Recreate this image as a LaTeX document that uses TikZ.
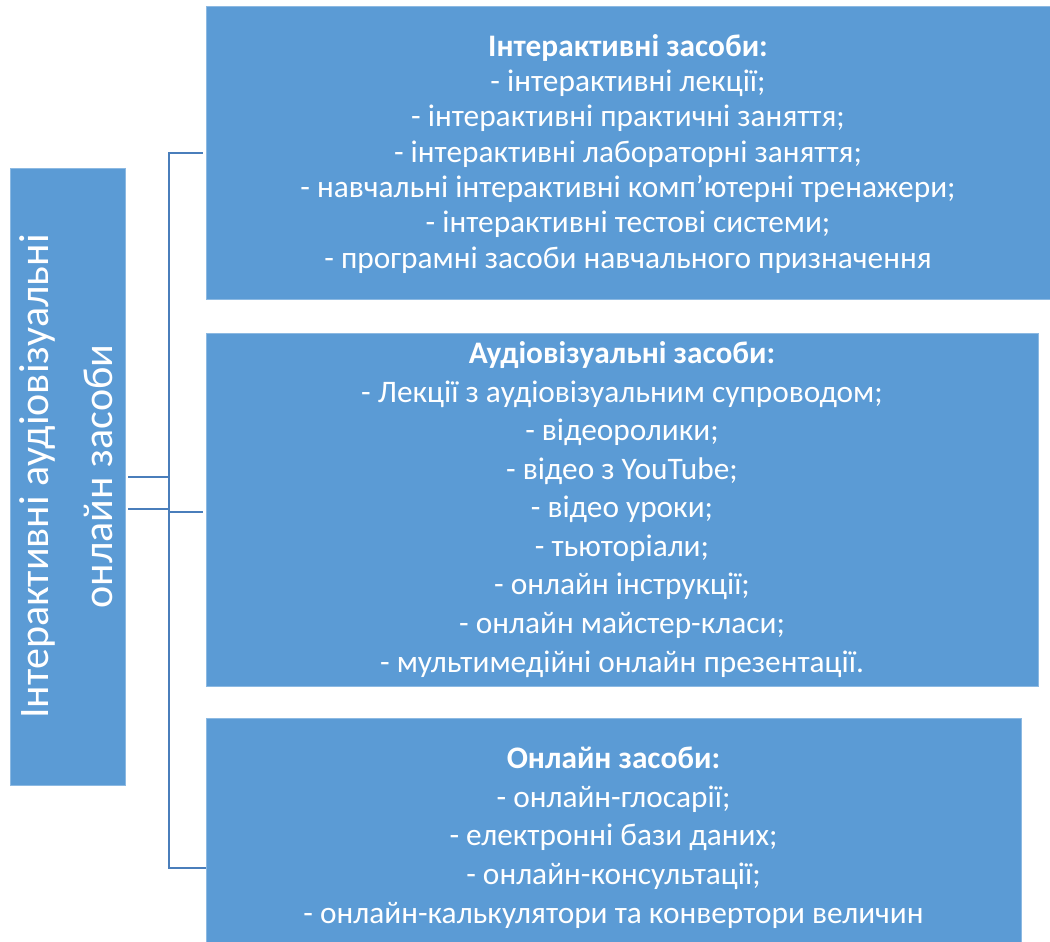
\documentclass[tikz,border=0pt]{standalone}
\usepackage{fontspec}
\setmainfont{Carlito}
\definecolor{boxblue}{HTML}{5B9BD5}
\definecolor{linkblue}{HTML}{4A7EBB}
\begin{document}
\begin{tikzpicture}[x=0.75pt,y=-0.75pt,
  panel/.style={fill=boxblue, draw=boxblue!70!white, line width=0.6pt,
    text=white, align=center, inner sep=0pt},
  bodytext/.style={text=white, align=center, inner sep=0pt},
  link/.style={draw=linkblue, line width=1.6pt}]
\useasboundingbox (0,0) rectangle (1050,942);
\clip (0,0) rectangle (1050,942);

% left category box with rotated caption
\node[panel, minimum width=86.25pt, minimum height=462.75pt] (left) at (67.5,476.5) {};
\node[bodytext, rotate=90, font=\fontsize{31.5}{48}\selectfont] (lefttext) at ([xshift=-0.75pt]left.center)
  {Інтерактивні аудіовізуальні\\онлайн засоби};

% three group boxes
\node[panel, minimum width=633pt, minimum height=219.75pt] (b1) at (628,152.5) {};
\node[bodytext, font=\fontsize{23.5}{26.5}\selectfont] (t1) at ([yshift=-1pt]b1.center)
  {\textbf{Інтерактивні засоби:}\\
   - інтерактивні лекції;\\
   - інтерактивні практичні заняття;\\
   - інтерактивні лабораторні заняття;\\
   - навчальні інтерактивні комп’ютерні тренажери;\\
   - інтерактивні тестові системи;\\
   - програмні засоби навчального призначення};

\node[panel, minimum width=624pt, minimum height=264.75pt] (b2) at (622,509.5) {};
\node[bodytext, font=\fontsize{23.5}{28.9}\selectfont] (t2) at (b2.center)
  {\textbf{Аудіовізуальні засоби:}\\
   - Лекції з аудіовізуальним супроводом;\\
   - відеоролики;\\
   - відео з YouTube;\\
   - відео уроки;\\
   - тьюторіали;\\
   - онлайн інструкції;\\
   - онлайн майстер-класи;\\
   - мультимедійні онлайн презентації.};

\node[panel, minimum width=611.25pt, minimum height=175.5pt] (b3) at (613.5,835) {};
\node[bodytext, font=\fontsize{23.5}{28.9}\selectfont] (t3) at ([yshift=-2pt]b3.center)
  {\textbf{Онлайн засоби:}\\
   - онлайн-глосарії;\\
   - електронні бази даних;\\
   - онлайн-консультації;\\
   - онлайн-калькулятори та конвертори величин};

% connector bus
\coordinate (busTop) at (169,153);
\coordinate (busBot) at (169,868);
\coordinate (j1) at (169,477);
\coordinate (j2) at (169,509);
\coordinate (j3) at (169,512);
\draw[link, shorten <=2.25pt] (left.east |- j1) -- (j1);
\draw[link, shorten <=2.25pt] (left.east |- j2) -- (j2);
\draw[link, shorten <=2.25pt] (b1.west |- busTop) -- (busTop) -- (busBot) -- (b3.west |- busBot);
\draw[link, shorten >=2.25pt] (j3) -- (b2.west |- j3);
\end{tikzpicture}
\end{document}
